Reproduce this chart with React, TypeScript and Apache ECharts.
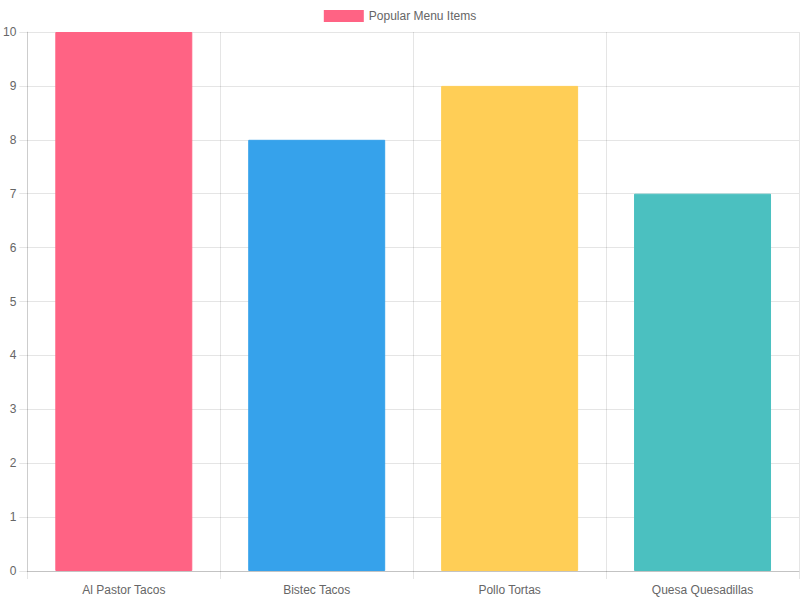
import React, { useEffect, useRef } from "react";
import * as echarts from "echarts";

const categories = ["Al Pastor Tacos", "Bistec Tacos", "Pollo Tortas", "Quesa Quesadillas"];
const values = [10, 8, 9, 7];
const colors = ["#FF6384", "#36A2EB", "#FFCE56", "#4BC0C0"];
const seriesName = "Popular Menu Items";

const FONT = "'Liberation Sans', Arial, Helvetica, sans-serif";

export default function App() {
  const ref = useRef<HTMLDivElement>(null);
  useEffect(() => {
    const chart = echarts.init(ref.current!, null, { renderer: "svg" });
    chart.setOption({
      animation: false,
      textStyle: { fontFamily: FONT },
      legend: {
        top: 5,
        left: "center",
        itemWidth: 40,
        itemHeight: 12,
        itemGap: 10,
        icon: "rect",
        textStyle: { fontSize: 12, color: "#666", fontFamily: FONT },
        data: [seriesName],
      },
      grid: { left: 27, right: 1, top: 32, bottom: 29, containLabel: false },
      xAxis: {
        type: "category",
        data: categories,
        axisLine: { show: true, lineStyle: { color: "rgba(0,0,0,0.15)" } },
        axisTick: { show: true, length: 8, alignWithLabel: false, lineStyle: { color: "rgba(0,0,0,0.1)" } },
        splitLine: { show: true, lineStyle: { color: "rgba(0,0,0,0.1)" } },
        axisLabel: { color: "#666", fontSize: 12, margin: 13, fontFamily: FONT },
      },
      yAxis: {
        type: "value",
        min: 0,
        max: 10,
        interval: 1,
        axisLine: { show: true, lineStyle: { color: "rgba(0,0,0,0.1)" } },
        axisTick: { show: true, length: 8, lineStyle: { color: "rgba(0,0,0,0.1)" } },
        splitLine: { show: true, lineStyle: { color: "rgba(0,0,0,0.1)" } },
        axisLabel: { color: "#666", fontSize: 12, margin: 11, fontFamily: FONT },
      },
      series: [
        {
          name: seriesName,
          type: "bar",
          barWidth: "71%",
          itemStyle: { color: colors[0] },
          data: values.map((v, i) => ({
            value: v,
            itemStyle: { color: colors[i], borderColor: colors[i], borderWidth: 1 },
          })),
        },
      ],
    });
    return () => chart.dispose();
  }, []);
  return (
    <div
      ref={ref}
      style={{ position: "fixed", left: 0, top: 0, width: 800, height: 600, background: "#fff" }}
    />
  );
}
